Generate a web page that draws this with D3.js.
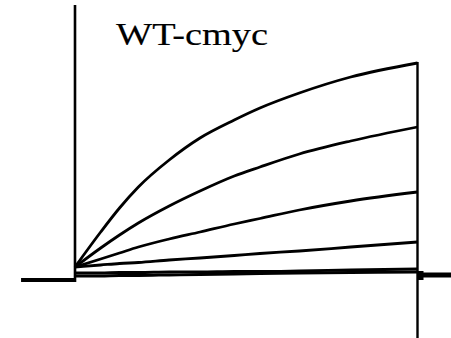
<!DOCTYPE html>
<html>
<head>
<meta charset="utf-8">
<script src="https://cdn.jsdelivr.net/npm/d3@7"></script>
<style>
  body { margin: 0; background: #fff; }
  svg { display: block; }
</style>
</head>
<body>
<div id="chart"></div>
<script>
////////////////////////////////////////////////////////////
//////////////////////// Data //////////////////////////////
////////////////////////////////////////////////////////////
// sample times (ms from pulse onset)
var times = [0, 15, 26, 37, 55, 73, 93, 108, 131, 161, 200];

// current (uA) of each trace at those times, top trace first
var trace1 = [0.02, 0.72, 1.20, 1.62, 2.16, 2.60, 2.96, 3.20, 3.50, 3.82, 4.10];
var trace2 = [0.02, 0.40, 0.66, 0.90, 1.24, 1.54, 1.84, 2.02, 2.28, 2.54, 2.82];
var trace3 = [0.02, 0.18, 0.30, 0.42, 0.58, 0.72, 0.88, 0.99, 1.16, 1.34, 1.52];
var trace4 = [0.02, 0.06, 0.09, 0.11, 0.16, 0.20, 0.25, 0.29, 0.34, 0.42, 0.52];
var trace5 = [-0.10, -0.10, -0.09, -0.09, -0.08, -0.08, -0.07, -0.07, -0.06, -0.04, -0.02];
var trace6 = [-0.16, -0.16, -0.15, -0.15, -0.14, -0.13, -0.12, -0.11, -0.10, -0.09, -0.08];
var traces = [trace1, trace2, trace3, trace4, trace5, trace6];

// holding current before and after the pulse
var holdBefore = -0.24;
var holdAfter = -0.14;
var pulseStart = 0, pulseEnd = 200;
var title = "WT-cmyc";

////////////////////////////////////////////////////////////
//////////////////////// Set-Up ////////////////////////////
////////////////////////////////////////////////////////////
var width = 451, height = 338;

var svg = d3.select("#chart").append("svg")
  .attr("width", width)
  .attr("height", height);

// 1.7125 px per ms, 50 px per uA
var x = d3.scaleLinear().domain([0, 200]).range([75, 417.5]);
var y = d3.scaleLinear().domain([0, 4]).range([268, 68]);

var line = d3.line()
  .x(function(d) { return x(d[0]); })
  .y(function(d) { return y(d[1]); })
  .curve(d3.curveMonotoneX);

// holding level before the step
svg.append("line")
  .attr("x1", x(-31.5)).attr("x2", x(pulseStart) + 1)
  .attr("y1", y(holdBefore)).attr("y2", y(holdBefore))
  .attr("stroke", "#000").attr("stroke-width", 4);

// step onset marker
svg.append("line")
  .attr("x1", x(pulseStart)).attr("x2", x(pulseStart))
  .attr("y1", y(5.26)).attr("y2", y(holdBefore) + 2)
  .attr("stroke", "#000").attr("stroke-width", 2.6);

// traces
svg.selectAll(".trace")
  .data(traces)
  .enter()
  .append("path")
    .attr("class", "trace")
    .attr("d", function(vals) {
      return line(vals.map(function(v, i) { return [times[i], v]; }));
    })
    .attr("fill", "none")
    .attr("stroke", "#000")
    .attr("stroke-width", 2.8);

// step offset marker
svg.append("line")
  .attr("x1", x(pulseEnd)).attr("x2", x(pulseEnd))
  .attr("y1", y(trace1[trace1.length - 1]) - 1).attr("y2", height)
  .attr("stroke", "#000").attr("stroke-width", 2.4);

// holding level after the step (tail)
svg.append("line")
  .attr("x1", x(pulseEnd)).attr("x2", width)
  .attr("y1", y(holdAfter)).attr("y2", y(holdAfter))
  .attr("stroke", "#000").attr("stroke-width", 5);
svg.append("rect")
  .attr("x", x(pulseEnd)).attr("y", y(holdAfter) - 4)
  .attr("width", 6).attr("height", 9)
  .attr("fill", "#000");

// title
svg.append("text")
  .attr("x", 116).attr("y", 45)
  .attr("font-family", "'Liberation Serif', 'Times New Roman', serif")
  .attr("font-size", 31)
  .attr("textLength", 152)
  .attr("lengthAdjust", "spacingAndGlyphs")
  .attr("fill", "#000")
  .attr("stroke", "#000")
  .attr("stroke-width", 0.15)
  .text(title);
</script>
</body>
</html>
